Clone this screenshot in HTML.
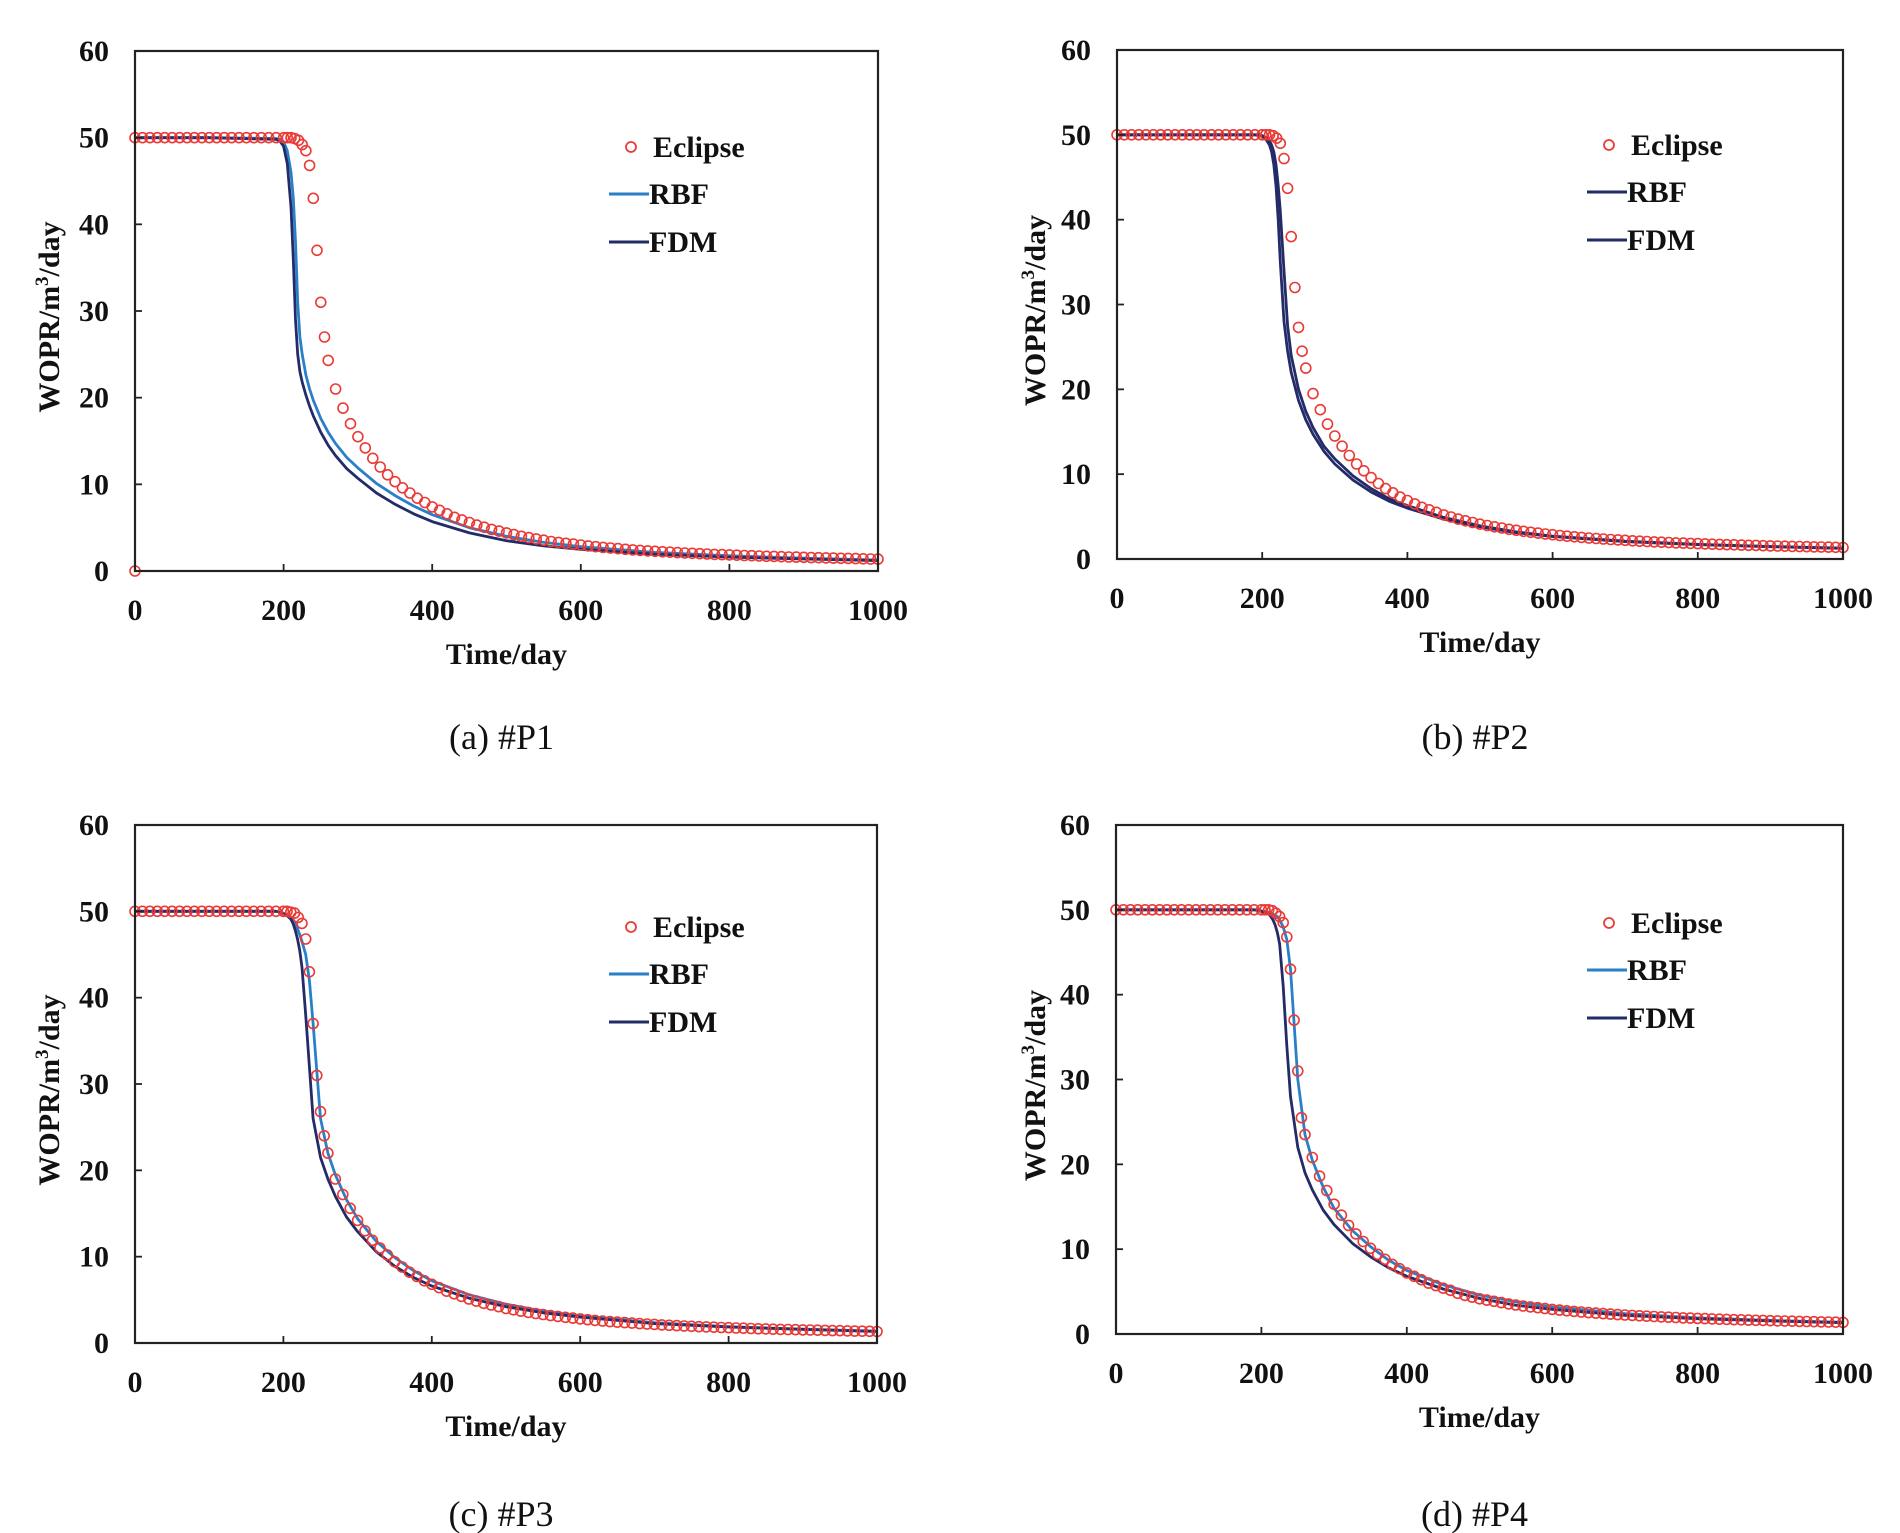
<!DOCTYPE html>
<html><head><meta charset="utf-8">
<style>
html,body{margin:0;padding:0;background:#fff;}
svg{display:block;}
text{font-family:"Liberation Serif",serif;fill:#111;}
.b{font-weight:bold;}
</style></head>
<body>
<svg id="fig" width="1900" height="1533" viewBox="0 0 1900 1533" xmlns="http://www.w3.org/2000/svg"></svg>
<script>
// ---------- data ----------
const xTicks = [0, 200, 400, 600, 800, 1000];
const yTicks = [0, 10, 20, 30, 40, 50, 60];
const lineTimes = [0,100,190,195,200,205,210,213,216,219,222,225,230,235,240,250,260,270,285,300,325,350,375,400,450,500,550,600,700,800,900,1000];
const eclipseTimes = [0,10,20,30,40,50,60,70,80,90,100,110,120,130,140,150,160,170,180,190,200,
 205,210,215,220,225,230,235,240,245,250,255,260,
 270,280,290,300,310,320,330,340,350,360,370,380,390,400,410,420,430,440,450,460,470,480,490,500,
 510,520,530,540,550,560,570,580,590,600,610,620,630,640,650,660,670,680,690,700,710,720,730,740,750,
 760,770,780,790,800,810,820,830,840,850,860,870,880,890,900,910,920,930,940,950,960,970,980,990,1000];
const flat50 = [50,50,50,50,50,50,50,50,50,50,50,50,50,50,50,50,50,50,50,50,50];

const fdmA = [50,50,49.8,49.6,49,47,42,36,29,25,23,21.8,20.3,19,17.9,16,14.5,13.3,11.8,10.7,9,7.7,6.6,5.7,4.4,3.5,2.9,2.5,1.95,1.6,1.38,1.2];
const rbfA = [50,50,49.9,49.8,49.5,48.5,46,43,38,31,27,25,22.6,21,19.7,17.6,16,14.7,13.1,11.9,10.1,8.7,7.5,6.5,5,4,3.3,2.8,2.15,1.75,1.48,1.27];
const eclipseA = flat50.concat([50,50,49.9,49.7,49.2,48.5,46.8,43,37,31,27,24.3,
 21,18.8,17,15.5,14.2,13,12,11.1,10.3,9.6,
 9,8.4,7.9,7.4,7,6.6,6.2,5.9,5.6,5.3,
 5.05,4.8,4.6,4.4,4.2,4,3.85,3.7,3.55,3.4,
 3.3,3.2,3.1,3,2.9,2.8,2.72,2.65,2.58,2.5,
 2.44,2.38,2.32,2.27,2.22,2.17,2.12,2.08,2.04,2,
 1.96,1.92,1.89,1.86,1.82,1.79,1.76,1.73,1.7,1.68,
 1.65,1.62,1.6,1.58,1.55,1.53,1.51,1.49,1.47,1.45,
 1.43,1.41,1.39,1.37]);
const outlierA = [[0, 0]];

const fdmB = [50,50,50,49.9,49.8,49.5,48.8,48,46.5,44,40,35,28,24.5,22,18.7,16.4,14.7,12.7,11.2,9.3,7.9,6.8,6,4.7,3.8,3.1,2.65,2.05,1.7,1.45,1.25];
const rbfB = [50,50,50,50,49.9,49.7,49.3,48.8,48,46.5,44,41,34,27.5,24,20,17.4,15.5,13.3,11.8,9.8,8.3,7.1,6.3,4.9,3.9,3.2,2.7,2.1,1.72,1.47,1.27];
const eclipseB = flat50.concat([50,50,49.9,49.6,49,47.2,43.7,38,32,27.3,24.5,22.5,
 19.5,17.6,15.9,14.5,13.3,12.2,11.2,10.4,9.6,8.9,
 8.3,7.8,7.3,6.9,6.5,6.1,5.8,5.5,5.2,4.95,
 4.7,4.5,4.3,4.1,3.95,3.8,3.65,3.5,3.38,3.26,
 3.15,3.05,2.95,2.86,2.77,2.69,2.62,2.55,2.48,2.42,
 2.36,2.3,2.25,2.2,2.15,2.1,2.06,2.02,1.98,1.94,
 1.9,1.87,1.84,1.81,1.78,1.75,1.72,1.69,1.67,1.64,
 1.62,1.6,1.57,1.55,1.53,1.51,1.49,1.47,1.45,1.43,
 1.42,1.4,1.38,1.36]);

const fdmC = [50,50,50,49.9,49.7,49.5,49.1,48.6,47.8,46.8,45.5,43.5,38,32,26,21.5,19,17,14.6,12.9,10.6,8.9,7.6,6.6,5.2,4.2,3.5,3,2.25,1.85,1.57,1.33];
const rbfC = [50,50,50,49.9,49.8,49.6,49.3,49,48.5,48,47.3,46.5,45,42,37,26,22,19.5,16.6,14.4,11.8,9.9,8.4,7.2,5.6,4.5,3.7,3.1,2.35,1.9,1.6,1.38];
const eclipseC = flat50.concat([50,49.9,49.8,49.3,48.6,46.8,43,37,31,26.8,24,22,
 19,17.2,15.6,14.2,13,11.9,11,10.2,9.4,8.8,
 8.2,7.7,7.2,6.8,6.4,6,5.7,5.4,5.1,4.85,
 4.6,4.4,4.2,4,3.85,3.7,3.55,3.42,3.3,3.18,
 3.08,2.98,2.88,2.79,2.7,2.62,2.55,2.48,2.42,2.36,
 2.3,2.25,2.2,2.15,2.1,2.05,2.01,1.97,1.93,1.89,
 1.86,1.83,1.8,1.77,1.74,1.71,1.68,1.65,1.63,1.6,
 1.58,1.56,1.54,1.52,1.5,1.48,1.46,1.44,1.42,1.4,
 1.38,1.37,1.35,1.33]);

const fdmD = [50,50,50,49.9,49.8,49.7,49.5,49.2,48.8,48.2,47.3,46,41,34,28,22,19,17,14.6,12.9,10.7,9.1,7.8,6.8,5.3,4.2,3.4,2.9,2.2,1.8,1.55,1.33];
const rbfD = [50,50,50,50,49.9,49.8,49.7,49.6,49.5,49.3,49.2,48.8,48,46.5,43,30,23.5,20.5,17.3,14.8,12.2,10.3,8.7,7.5,5.8,4.6,3.8,3.2,2.4,1.9,1.6,1.38];
const eclipseD = flat50.concat([50,50,49.9,49.6,49.2,48.5,46.8,43,37,31,25.5,23.5,
 20.8,18.6,16.9,15.3,14,12.8,11.8,10.9,10.1,9.4,
 8.8,8.2,7.7,7.2,6.8,6.4,6,5.7,5.4,5.15,
 4.8,4.55,4.35,4.15,4,3.85,3.7,3.55,3.42,3.3,
 3.2,3.1,3,2.9,2.82,2.74,2.66,2.59,2.52,2.46,
 2.4,2.34,2.29,2.24,2.19,2.14,2.1,2.06,2.02,1.98,
 1.94,1.9,1.87,1.84,1.81,1.78,1.75,1.72,1.69,1.67,
 1.64,1.62,1.6,1.57,1.55,1.53,1.51,1.49,1.47,1.45,
 1.43,1.41,1.39,1.37]);

// ---------- layout ----------
const NS = "http://www.w3.org/2000/svg";
const svg = document.getElementById('fig');
function el(tag, attrs, parent, txt){
  const e = document.createElementNS(NS, tag);
  for (const k in attrs) e.setAttribute(k, attrs[k]);
  if (txt !== undefined) e.textContent = txt;
  (parent || svg).appendChild(e);
  return e;
}
const RBF_LIGHT = '#2a7fc9', NAVY = '#232b68', RED = '#ea3a35';

const panels = [
 {id:'p1', cap:'(a) #P1', L:135, R:878, T:51, B:571, ytx:49, capY:749, fdm:fdmA, rbf:rbfA, ecl:eclipseA, out:outlierA, rbfColor:RBF_LIGHT, lgX:609, lgY:147},
 {id:'p2', cap:'(b) #P2', L:1117, R:1843, T:50, B:559, ytx:1035, capY:749, fdm:fdmB, rbf:rbfB, ecl:eclipseB, out:[], rbfColor:NAVY, lgX:1587, lgY:145},
 {id:'p3', cap:'(c) #P3', L:135, R:877, T:825, B:1343, ytx:49, capY:1526, fdm:fdmC, rbf:rbfC, ecl:eclipseC, out:[], rbfColor:RBF_LIGHT, lgX:609, lgY:927},
 {id:'p4', cap:'(d) #P4', L:1116, R:1843, T:825, B:1334, ytx:1035, capY:1526, fdm:fdmD, rbf:rbfD, ecl:eclipseD, out:[], rbfColor:RBF_LIGHT, lgX:1587, lgY:923}
];

panels.forEach(p => {
  const g = el('g', {});
  
  
  const xs = v => p.L + (v / 1000) * (p.R - p.L);
  const ys = v => p.B - (v / 60) * (p.B - p.T);

  function line(vals, color, name){
    let d = '';
    lineTimes.forEach((t, i) => { d += (i ? 'L' : 'M') + xs(t).toFixed(1) + ' ' + ys(vals[i]).toFixed(1); });
    const pth = el('path', {d:d, fill:'none', stroke:color, 'stroke-width':2.8, 'stroke-linejoin':'round'}, g);
    
    
  }
  line(p.rbf, p.rbfColor, 'rbf-line');
  line(p.fdm, NAVY, 'fdm-line');

  const mg = el('g', {fill:'none', stroke:RED, 'stroke-width':1.6}, g);
  
  
  eclipseTimes.forEach((t, i) => {
    const c = el('circle', {cx:xs(t).toFixed(1), cy:ys(p.ecl[i]).toFixed(1), r:5}, mg);
    
    
  });
  p.out.forEach(pt => {
    const c = el('circle', {cx:xs(pt[0]), cy:ys(pt[1]), r:5}, mg);
    
    
  });

  const fr = el('rect', {x:p.L, y:p.T, width:p.R-p.L, height:p.B-p.T, fill:'none', stroke:'#222', 'stroke-width':2.2}, g);
  
  

  xTicks.forEach(v => {
    const tk = el('line', {x1:xs(v), x2:xs(v), y1:p.B, y2:p.B-7, stroke:'#222', 'stroke-width':1.8}, g);
    
    
    const lb = el('text', {x:xs(v), y:p.B+49, 'text-anchor':'middle', 'font-size':30, class:'b'}, g, String(v));
    
    
  });
  yTicks.forEach(v => {
    const tk = el('line', {x1:p.L, x2:p.L+7, y1:ys(v), y2:ys(v), stroke:'#222', 'stroke-width':1.8}, g);
    
    
    const lb = el('text', {x:p.L-26, y:ys(v)+10, 'text-anchor':'end', 'font-size':30, class:'b'}, g, String(v));
    
    
  });

  const xt = el('text', {x:(p.L+p.R)/2, y:p.B+93, 'text-anchor':'middle', 'font-size':30, class:'b'}, g, 'Time/day');
  
  
  const cy = (p.T + p.B) / 2 + 6;
  const yt = el('text', {x:0, y:0, 'text-anchor':'middle', 'font-size':30, class:'b', transform:'translate(' + (p.ytx + 10) + ',' + cy + ') rotate(-90)'}, g);
  
  
  el('tspan', {}, yt, 'WOPR/m');
  el('tspan', {'font-size':19, dy:-11}, yt, '3');
  el('tspan', {dy:11}, yt, '/day');

  const lg = el('g', {}, g);
  
  
  const e1 = el('circle', {cx:p.lgX+22, cy:p.lgY, r:5, fill:'none', stroke:RED, 'stroke-width':1.8}, lg);
  
  
  const t1 = el('text', {x:p.lgX+44, y:p.lgY+10, 'font-size':30, class:'b'}, lg, 'Eclipse');
  
  
  const y2 = p.lgY + 47, y3 = p.lgY + 95;
  const l2 = el('line', {x1:p.lgX, x2:p.lgX+40, y1:y2, y2:y2, stroke:p.rbfColor, 'stroke-width':3}, lg);
  
  
  const t2 = el('text', {x:p.lgX+40, y:y2+10, 'font-size':30, class:'b'}, lg, 'RBF');
  
  
  const l3 = el('line', {x1:p.lgX, x2:p.lgX+40, y1:y3, y2:y3, stroke:NAVY, 'stroke-width':3}, lg);
  
  
  const t3 = el('text', {x:p.lgX+40, y:y3+10, 'font-size':30, class:'b'}, lg, 'FDM');
  
  

  const cap = el('text', {x:(p.L+p.R)/2 - 5, y:p.capY, 'text-anchor':'middle', 'font-size':36}, g, p.cap);
  
  
});
</script>
</body></html>
